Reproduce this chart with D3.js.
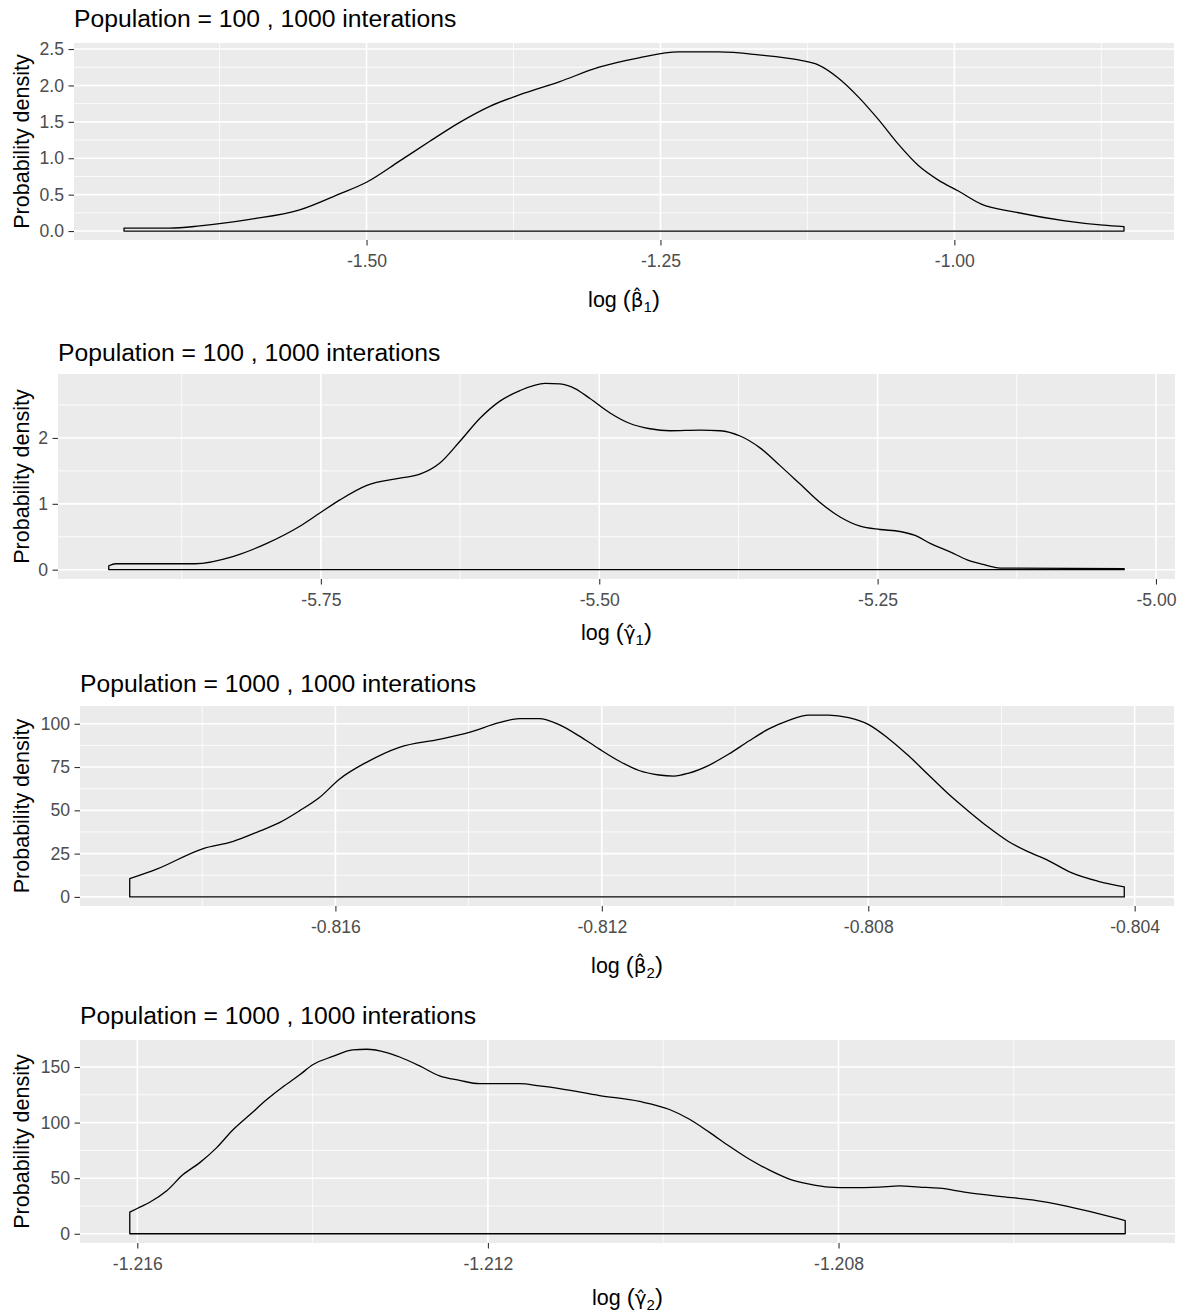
<!DOCTYPE html>
<html><head><meta charset="utf-8">
<script src="https://cdn.jsdelivr.net/npm/d3@7"></script>
<style>body{margin:0;background:#fff}</style>
</head><body>
<svg id="chart" width="1183" height="1312"></svg>
<script>
// ---------------- DATA ----------------
const titles = ["Population = 100 , 1000 interations", "Population = 100 , 1000 interations",
                "Population = 1000 , 1000 interations", "Population = 1000 , 1000 interations"];
const yTitle = "Probability density";
const symbols = ["β", "γ", "β", "γ"];
const subscripts = ["1", "1", "2", "2"];

// Panel 1: log(beta_1)
const p1X = [-1.7063,-1.6672,-1.6418,-1.5993,-1.5569,-1.5229,-1.5000,-1.4720,-1.4465,-1.4211,-1.3956,-1.3701,-1.3362,-1.3022,-1.2683,-1.2343,-1.2003,-1.1664,-1.1324,-1.1154,-1.0985,-1.0815,-1.0645,-1.0475,-1.0306,-1.0136,-0.9966,-0.9771,-0.9482,-0.9058,-0.8735,-0.8557];
const p1Y = [0.04,0.04,0.07,0.16,0.29,0.51,0.67,0.96,1.23,1.49,1.71,1.87,2.05,2.25,2.38,2.46,2.46,2.42,2.35,2.28,2.10,1.84,1.53,1.19,0.90,0.70,0.55,0.37,0.26,0.14,0.08,0.06];
const p1XTicks = [-1.5, -1.25, -1.0];
const p1XTickLabels = ["-1.50", "-1.25", "-1.00"];
const p1YTicks = [0, 0.5, 1, 1.5, 2, 2.5];
const p1YTickLabels = ["0.0", "0.5", "1.0", "1.5", "2.0", "2.5"];

// Panel 2: log(gamma_1)
const p2X = [-5.9405,-5.9342,-5.8632,-5.8291,-5.7985,-5.7689,-5.7509,-5.7329,-5.7087,-5.6790,-5.6611,-5.6431,-5.6251,-5.6071,-5.5892,-5.5712,-5.5487,-5.5353,-5.5218,-5.5083,-5.4903,-5.4724,-5.4544,-5.4364,-5.4095,-5.3915,-5.3735,-5.3556,-5.3376,-5.3196,-5.3017,-5.2837,-5.2657,-5.2478,-5.2298,-5.2163,-5.2028,-5.1849,-5.1696,-5.1552,-5.1399,-5.0285];
const p2Y = [0.06,0.09,0.09,0.20,0.40,0.66,0.86,1.06,1.28,1.39,1.45,1.62,1.95,2.30,2.56,2.72,2.83,2.82,2.75,2.60,2.38,2.22,2.14,2.11,2.12,2.11,2.03,1.85,1.58,1.30,1.02,0.80,0.66,0.61,0.58,0.52,0.40,0.27,0.15,0.08,0.025,0.015];
const p2XTicks = [-5.75, -5.5, -5.25, -5.0];
const p2XTickLabels = ["-5.75", "-5.50", "-5.25", "-5.00"];
const p2YTicks = [0, 1, 2];
const p2YTickLabels = ["0", "1", "2"];

// Panel 3: log(beta_2)
const p3X = [-0.819088,-0.818684,-0.817994,-0.817544,-0.817139,-0.816840,-0.816540,-0.816240,-0.815940,-0.815535,-0.815040,-0.814441,-0.813991,-0.813541,-0.813241,-0.812942,-0.812642,-0.812342,-0.812042,-0.811742,-0.811442,-0.811142,-0.810918,-0.810693,-0.810393,-0.810093,-0.809793,-0.809493,-0.809193,-0.808894,-0.808594,-0.808294,-0.807994,-0.807694,-0.807394,-0.807094,-0.806795,-0.806495,-0.806195,-0.805895,-0.805595,-0.805295,-0.804951,-0.804546,-0.804156];
const p3Y = [10.5,16,27.8,31.9,38,42.9,49.7,57.4,68,77.7,86.4,91,95,100.6,103,103,99.5,93,85.5,78.5,73,70.4,69.8,71.5,76,82.5,90,97,102,105,105,103.5,99.5,91.4,81.5,70.4,59.4,49.5,40.2,32,26,21,14,9,5.8];
const p3XTicks = [-0.816, -0.812, -0.808, -0.804];
const p3XTickLabels = ["-0.816", "-0.812", "-0.808", "-0.804"];
const p3YTicks = [0, 25, 50, 75, 100];
const p3YTickLabels = ["0", "25", "50", "75", "100"];

// Panel 4: log(gamma_2)
const p4X = [-1.216086,-1.215972,-1.215858,-1.215664,-1.215481,-1.215287,-1.215094,-1.214911,-1.214717,-1.214523,-1.214341,-1.214147,-1.213999,-1.213771,-1.213543,-1.213383,-1.213155,-1.213007,-1.212779,-1.212551,-1.212323,-1.212095,-1.211867,-1.211639,-1.211411,-1.211182,-1.210726,-1.210270,-1.209928,-1.209700,-1.209472,-1.209244,-1.209016,-1.208788,-1.208560,-1.208332,-1.208104,-1.207876,-1.207534,-1.207306,-1.207078,-1.206850,-1.206542,-1.206165,-1.205789,-1.205401,-1.205025,-1.204729];
const p4Y = [19.4,23.9,28.4,38.7,53,64,77.5,93.3,107,120.7,132,143,152,159.5,165.5,166,163,159,151,142,138,135,135,135,133,130.6,124.3,119,111.8,103,91.2,78.7,67,57.2,49.2,44.7,42,41.5,42,43,42,41,37.3,33.7,30.4,24.8,17.9,11.9];
const p4XTicks = [-1.216, -1.212, -1.208];
const p4XTickLabels = ["-1.216", "-1.212", "-1.208"];
const p4YTicks = [0, 50, 100, 150];
const p4YTickLabels = ["0", "50", "100", "150"];

// ---------------- LAYOUT ----------------
const FONT = "'Liberation Sans', Arial, Helvetica, sans-serif";
const SYMFONT = "'DejaVu Sans', sans-serif";
const layout = [
  {left: 74, right: 1174, top: 43, bottom: 240, titleOff: 16, xTitleOff: 67},
  {left: 58, right: 1175, top: 374, bottom: 579, titleOff: 13, xTitleOff: 61},
  {left: 80, right: 1174, top: 706, bottom: 906, titleOff: 14, xTitleOff: 67},
  {left: 80, right: 1175, top: 1040, bottom: 1243, titleOff: 16, xTitleOff: 62}
];
const panels = [
  [p1X, p1Y, p1XTicks, p1XTickLabels, p1YTicks, p1YTickLabels],
  [p2X, p2Y, p2XTicks, p2XTickLabels, p2YTicks, p2YTickLabels],
  [p3X, p3Y, p3XTicks, p3XTickLabels, p3YTicks, p3YTickLabels],
  [p4X, p4Y, p4XTicks, p4XTickLabels, p4YTicks, p4YTickLabels]
];

const svg = d3.select("#chart");

function minorBreaks(ticks, dom) {
  const step = ticks[1] - ticks[0];
  const ext = [ticks[0] - step, ...ticks, ticks[ticks.length - 1] + step];
  const out = [];
  for (let k = 0; k < ext.length - 1; k++) out.push((ext[k] + ext[k + 1]) / 2);
  const lo = Math.min(dom[0], dom[1]), hi = Math.max(dom[0], dom[1]);
  return out.filter(v => v >= lo && v <= hi);
}

panels.forEach((p, i) => {
  const [xs, ys, xt, xtl, yt, ytl] = p;
  const L = layout[i];
  const g = svg.append("g");
  const xe = d3.extent(xs), r = xe[1] - xe[0];
  const x = d3.scaleLinear().domain([xe[0] - 0.05 * r, xe[1] + 0.05 * r]).range([L.left, L.right]);
  const yMax = d3.max(ys);
  const y = d3.scaleLinear().domain([-0.05 * yMax, 1.05 * yMax]).range([L.bottom, L.top]);

  g.append("rect").attr("x", L.left).attr("y", L.top)
    .attr("width", L.right - L.left).attr("height", L.bottom - L.top).attr("fill", "#EBEBEB");

  // minor grid
  const xm = minorBreaks(xt, x.domain()), ym = minorBreaks(yt, y.domain());
  g.selectAll(".xmin").data(xm).enter().append("line")
    .attr("x1", d => x(d)).attr("x2", d => x(d)).attr("y1", L.top).attr("y2", L.bottom)
    .attr("stroke", "#fff").attr("stroke-width", 0.8);
  g.selectAll(".ymin").data(ym).enter().append("line")
    .attr("x1", L.left).attr("x2", L.right).attr("y1", d => y(d)).attr("y2", d => y(d))
    .attr("stroke", "#fff").attr("stroke-width", 0.8);
  // major grid
  g.selectAll(".xmaj").data(xt).enter().append("line")
    .attr("x1", d => x(d)).attr("x2", d => x(d)).attr("y1", L.top).attr("y2", L.bottom)
    .attr("stroke", "#fff").attr("stroke-width", 1.6);
  g.selectAll(".ymaj").data(yt).enter().append("line")
    .attr("x1", L.left).attr("x2", L.right).attr("y1", d => y(d)).attr("y2", d => y(d))
    .attr("stroke", "#fff").attr("stroke-width", 1.6);

  // density outline (closed polygon incl. baseline)
  const pts = xs.map((v, k) => [v, ys[k]]);
  const area = d3.area().x(d => x(d[0])).y0(y(0)).y1(d => y(d[1])).curve(d3.curveMonotoneX);
  g.append("path").attr("d", area(pts)).attr("fill", "none")
    .attr("stroke", "#000").attr("stroke-width", 1.3).attr("stroke-linejoin", "round");

  // axes
  const ax = g.append("g").attr("transform", `translate(0,${L.bottom})`)
    .call(d3.axisBottom(x).tickValues(xt).tickFormat((d, k) => xtl[k]).tickSize(5.5).tickPadding(9));
  const ay = g.append("g").attr("transform", `translate(${L.left},0)`)
    .call(d3.axisLeft(y).tickValues(yt).tickFormat((d, k) => ytl[k]).tickSize(5.5).tickPadding(4.5));
  [ax, ay].forEach(a => {
    a.select(".domain").remove();
    a.selectAll(".tick line").attr("stroke", "#333333").attr("stroke-width", 1.1);
    a.selectAll(".tick text").attr("fill", "#4D4D4D").style("font-family", FONT).style("font-size", "17.6px");
  });

  // title
  svg.append("text").attr("x", L.left).attr("y", L.top - L.titleOff)
    .style("font-family", FONT).style("font-size", "24.7px").attr("fill", "#000").text(titles[i]);

  // y title
  svg.append("text").attr("transform", `translate(28.5,${(L.top + L.bottom) / 2}) rotate(-90)`)
    .attr("text-anchor", "middle").style("font-family", FONT).style("font-size", "21.5px")
    .attr("fill", "#000").text(yTitle);

  // x title: log (hat(sym)[sub]) — hat as a combining circumflex on the Greek letter
  const bx = (L.left + L.right) / 2, by = L.bottom + L.xTitleOff;
  const t = svg.append("text").attr("x", bx).attr("y", by).attr("text-anchor", "middle")
    .style("font-family", FONT).style("font-size", "21.5px").attr("fill", "#000");
  t.append("tspan").text("log ");
  t.append("tspan").style("font-size", "24px").text("(");
  t.append("tspan").style("font-family", SYMFONT).style("font-size", "20px").text(symbols[i] + "\u0302");
  t.append("tspan").style("font-size", "15px").attr("dy", 5).text(subscripts[i]);
  t.append("tspan").style("font-size", "24px").attr("dy", -5).text(")");
});
</script>
</body></html>
